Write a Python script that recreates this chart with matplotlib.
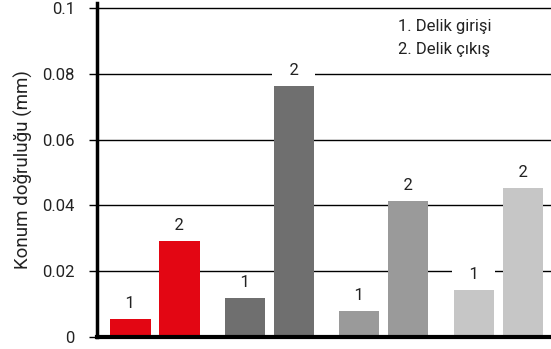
import matplotlib.pyplot as plt
import numpy as np

plt.rcParams['font.family'] = ['Roboto', 'DejaVu Sans']

groups = ['A', 'B', 'C', 'D']
giris = [0.0055, 0.0119, 0.0079, 0.0143]   # 1. Delik girişi
cikis = [0.0292, 0.0763, 0.0413, 0.0453]   # 2. Delik çıkış
colors = ['#e30613', '#6f6f6f', '#9a9a9a', '#c6c6c6']
yticks = [0, 0.02, 0.04, 0.06, 0.08, 0.1]
ytick_labels = ['0', '0.02', '0.04', '0.06', '0.08', '0.1']

fig = plt.figure(figsize=(5.51, 3.49), dpi=100)
ax = fig.add_axes([0.176, 0.0344, 0.824, 0.957])

x = np.arange(len(groups))
w = 0.35
off = 0.214
b1 = ax.bar(x - off, giris, width=w, color=colors, zorder=3)
b2 = ax.bar(x + off, cikis, width=w, color=colors, zorder=3)

for bars, lab in [(b1, '1'), (b2, '2')]:
    for b in bars:
        ax.annotate('    ' + lab + '    ', (b.get_x() + b.get_width() / 2, b.get_height()),
                    xytext=(0, 5.5), textcoords='offset points',
                    ha='center', va='bottom', fontsize=12, color='#222222',
                    bbox=dict(facecolor='white', edgecolor='none', pad=0.3),
                    zorder=4)

ax.set_xlim(-0.507, 3.46)
ax.set_ylim(0, 0.1015)
ax.set_yticks(yticks)
ax.set_yticklabels(ytick_labels, fontsize=12, color='#222222')
ax.set_xticks([])
ax.yaxis.grid(True, color='black', linewidth=1, zorder=0)
ax.tick_params(axis='y', length=6, width=1, pad=10)
for s in ['top', 'right', 'bottom']:
    ax.spines[s].set_visible(False)
ax.spines['left'].set_linewidth(2.5)
ax.axhline(0, color='black', linewidth=3, zorder=5, clip_on=False)
ax.set_ylabel('Konum doğruluğu (mm)', fontsize=13.5, color='#222222', labelpad=7)

ax.text(0.663, 0.895, '1. Delik girişi\n2. Delik çıkış', transform=ax.transAxes,
        fontsize=12, color='#222222', va='center', ha='left', linespacing=1.65,
        bbox=dict(facecolor='white', edgecolor='none', pad=3), zorder=4)

fig.savefig('out.png', dpi=100)
